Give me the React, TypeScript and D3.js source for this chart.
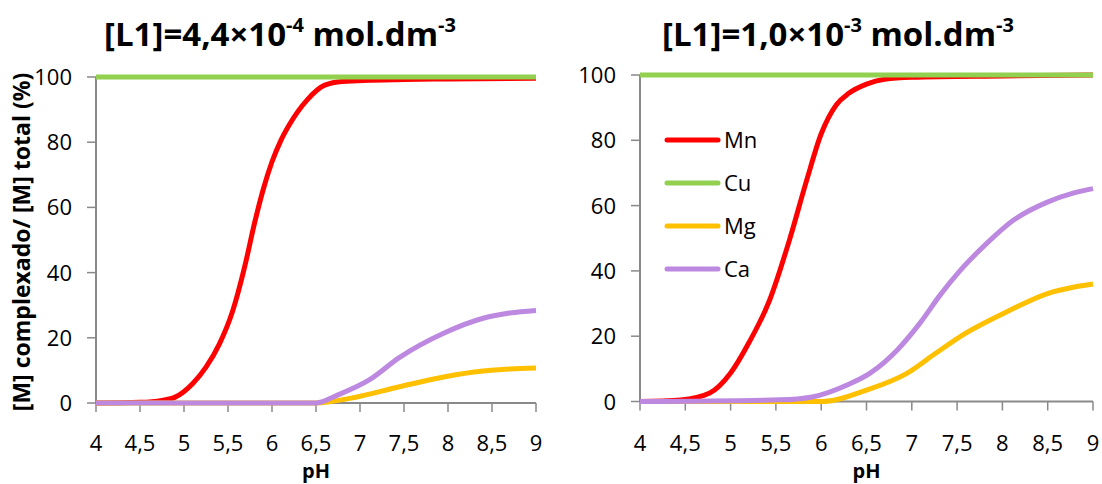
import React from "react";
import * as d3 from "d3";

// ---------- data ----------
const xTicks = [4, 4.5, 5, 5.5, 6, 6.5, 7, 7.5, 8, 8.5, 9];
const yTicks = [0, 20, 40, 60, 80, 100];
const seriesNames = ["Mn", "Cu", "Mg", "Ca"];
const seriesColors = ["#FF0000", "#92D050", "#FFC000", "#BC88E0"];

// Left chart: [L1]=4,4x10^-4
const mnL_pH = [4, 4.5, 4.75, 4.9, 5.1, 5.25, 5.4, 5.55, 5.7, 5.8, 5.9, 6.0, 6.1, 6.2, 6.4, 6.6, 6.8, 7.5, 8, 9];
const mnL = [0, 0.2, 0.8, 1.8, 6, 11, 18, 28, 43, 55, 65.5, 74, 80.5, 85.5, 93, 97.5, 98.6, 99.2, 99.4, 99.6];
const cuL_pH = [4, 9];
const cuL = [100, 100];
const mgL_pH = [4, 6.5, 6.9, 7.45, 7.95, 8.4, 8.7, 9];
const mgL = [0, 0, 1.5, 5, 8, 9.8, 10.4, 10.7];
const caL_pH = [4, 6.5, 6.75, 7.1, 7.45, 7.95, 8.4, 8.7, 9];
const caL = [0, 0, 2.5, 7, 14, 21.4, 26, 27.6, 28.4];

// Right chart: [L1]=1,0x10^-3
const mnR_pH = [4, 4.45, 4.77, 5.0, 5.2, 5.43, 5.65, 5.84, 6.0, 6.17, 6.3, 6.5, 6.7, 7, 8, 9];
const mnR = [0, 0.5, 2.6, 8.7, 17.9, 31, 49.5, 67.8, 82, 91, 94.3, 97.2, 98.7, 99.3, 99.7, 100];
const cuR_pH = [4, 9];
const cuR = [100, 100];
const mgR_pH = [4, 6.0, 6.5, 6.95, 7.24, 7.6, 8.05, 8.49, 8.78, 9];
const mgR = [0, 0, 3.5, 8.7, 14.3, 21, 27.5, 33, 35, 36];
const caR_pH = [4, 5.55, 5.9, 6.28, 6.54, 6.84, 7.09, 7.31, 7.53, 7.83, 8.12, 8.49, 8.78, 9];
const caR = [0, 0.5, 1.4, 5, 8.7, 15.8, 24, 32.5, 40, 48.5, 55.5, 61, 63.8, 65.2];

const leftSeries = [
  [mnL_pH, mnL],
  [cuL_pH, cuL],
  [mgL_pH, mgL],
  [caL_pH, caL],
];
const rightSeries = [
  [mnR_pH, mnR],
  [cuR_pH, cuR],
  [mgR_pH, mgR],
  [caR_pH, caR],
];

const FONT = "'Open Sans', 'Noto Sans', sans-serif";
const AXIS = "#898989";

type PanelProps = {
  x0: number; x1: number; y0: number; y1: number;
  series: number[][][];
  title: [string, string, string, string];
  titleX: number;
  legend?: boolean;
};

function Panel({ x0, x1, y0, y1, series, title, titleX, legend }: PanelProps) {
  const x = d3.scaleLinear().domain([4, 9]).range([x0, x1]);
  const y = d3.scaleLinear().domain([0, 100]).range([y0, y1]);
  const line = d3
    .line<[number, number]>()
    .x((d) => x(d[0]))
    .y((d) => y(d[1]))
    .curve(d3.curveMonotoneX);
  return (
    <g>
      <text x={titleX} y={46} textAnchor="middle" fontFamily={FONT} fontWeight="bold" fontSize={33} fill="#000">
        {title[0]}
        <tspan fontSize={20} dy={-14}>{title[1]}</tspan>
        <tspan dy={14}>{title[2]}</tspan>
        <tspan fontSize={20} dy={-14}>{title[3]}</tspan>
      </text>
      {/* axes */}
      <line x1={x0} x2={x0} y1={y(0)} y2={y(100)} stroke={AXIS} strokeWidth={2} />
      <line x1={x0} x2={x1} y1={y(0)} y2={y(0)} stroke={AXIS} strokeWidth={2} />
      {yTicks.map((t) => (
        <g key={"y" + t}>
          <line x1={x0 - 9} x2={x0} y1={y(t)} y2={y(t)} stroke={AXIS} strokeWidth={1.5} />
          <text x={x0 - 24} y={y(t) + 8} textAnchor="end" fontFamily={FONT} fontSize={22} fill="#000">
            {t}
          </text>
        </g>
      ))}
      {xTicks.map((t) => (
        <g key={"x" + t}>
          <line x1={x(t)} x2={x(t)} y1={y(0)} y2={y(0) + 9} stroke={AXIS} strokeWidth={1.5} />
          <text x={x(t)} y={451} textAnchor="middle" fontFamily={FONT} fontSize={22} fill="#000">
            {String(t).replace(".", ",")}
          </text>
        </g>
      ))}
      <text x={(x0 + x1) / 2} y={478} textAnchor="middle" fontFamily={FONT} fontWeight="bold" fontSize={20} fill="#000">
        pH
      </text>
      {series.map((s, i) => {
        const pts = s[0].map((p, j) => [p, s[1][j]] as [number, number]);
        return (
          <path key={i} d={line(pts) || ""} fill="none" stroke={seriesColors[i]} strokeWidth={5} strokeLinejoin="round" strokeLinecap="butt" />
        );
      })}
      {legend &&
        seriesNames.map((n, i) => (
          <g key={n}>
            <line x1={667} x2={718} y1={140 + i * 43} y2={140 + i * 43} stroke={seriesColors[i]} strokeWidth={5} strokeLinecap="round" />
            <text x={724} y={140 + i * 43 + 8} fontFamily={FONT} fontSize={22} fill="#000">
              {n}
            </text>
          </g>
        ))}
    </g>
  );
}

export default function App() {
  return (
    <svg width={1102} height={484} style={{ position: "absolute", left: 0, top: 0, background: "#fff" }}>
      <rect width={1102} height={484} fill="#fff" />
      <text
        transform="translate(30,242) rotate(-90)"
        textAnchor="middle"
        fontFamily={FONT}
        fontWeight="bold"
        fontSize={23}
        fill="#000"
      >
        [M] complexado/ [M] total (%)
      </text>
      <Panel x0={96} x1={536} y0={403} y1={77} series={leftSeries} title={["[L1]=4,4×10", "-4", " mol.dm", "-3"]} titleX={280} />
      <Panel x0={640} x1={1093} y0={401.5} y1={75} series={rightSeries} title={["[L1]=1,0×10", "-3", " mol.dm", "-3"]} titleX={838} legend />
    </svg>
  );
}
